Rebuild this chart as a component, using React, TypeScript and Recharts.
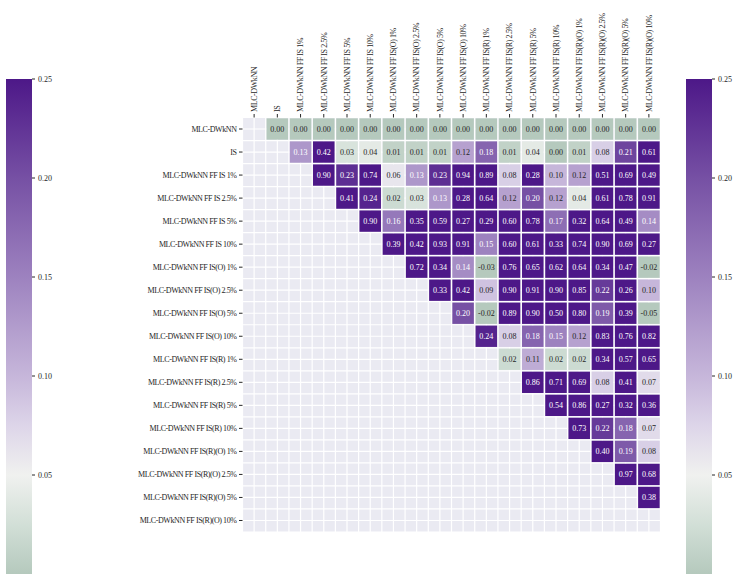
import React from 'react';
import { ScatterChart, Scatter, XAxis, YAxis, CartesianGrid, ComposedChart, ReferenceArea } from 'recharts';

const FONT = '"Liberation Serif", "DejaVu Serif", serif';
const INK = '#262626';
const LABEL_SIZE = 8;
const LABEL_SPACING = -0.42;

const labels = [
  'MLC-DWkNN',
  'IS',
  'MLC-DWkNN FF IS 1%',
  'MLC-DWkNN FF IS 2.5%',
  'MLC-DWkNN FF IS 5%',
  'MLC-DWkNN FF IS 10%',
  'MLC-DWkNN FF IS(O) 1%',
  'MLC-DWkNN FF IS(O) 2.5%',
  'MLC-DWkNN FF IS(O) 5%',
  'MLC-DWkNN FF IS(O) 10%',
  'MLC-DWkNN FF IS(R) 1%',
  'MLC-DWkNN FF IS(R) 2.5%',
  'MLC-DWkNN FF IS(R) 5%',
  'MLC-DWkNN FF IS(R) 10%',
  'MLC-DWkNN FF IS(R)(O) 1%',
  'MLC-DWkNN FF IS(R)(O) 2.5%',
  'MLC-DWkNN FF IS(R)(O) 5%',
  'MLC-DWkNN FF IS(R)(O) 10%',
];

// upper triangle only: row i starts at column i + 1
const rowValues: number[][] = [
  [0, 0, 0, 0, 0, 0, 0, 0, 0, 0, 0, 0, 0, 0, 0, 0, 0],
  [0.13, 0.42, 0.03, 0.04, 0.01, 0.01, 0.01, 0.12, 0.18, 0.01, 0.04, 0.0, 0.01, 0.08, 0.21, 0.61],
  [0.9, 0.23, 0.74, 0.06, 0.13, 0.23, 0.94, 0.89, 0.08, 0.28, 0.1, 0.12, 0.51, 0.69, 0.49],
  [0.41, 0.24, 0.02, 0.03, 0.13, 0.28, 0.64, 0.12, 0.2, 0.12, 0.04, 0.61, 0.78, 0.91],
  [0.9, 0.16, 0.35, 0.59, 0.27, 0.29, 0.6, 0.78, 0.17, 0.32, 0.64, 0.49, 0.14],
  [0.39, 0.42, 0.93, 0.91, 0.15, 0.6, 0.61, 0.33, 0.74, 0.9, 0.69, 0.27],
  [0.72, 0.34, 0.14, -0.03, 0.76, 0.65, 0.62, 0.64, 0.34, 0.47, -0.02],
  [0.33, 0.42, 0.09, 0.9, 0.91, 0.9, 0.85, 0.22, 0.26, 0.1],
  [0.2, -0.02, 0.89, 0.9, 0.5, 0.8, 0.19, 0.39, -0.05],
  [0.24, 0.08, 0.18, 0.15, 0.12, 0.83, 0.76, 0.82],
  [0.02, 0.11, 0.02, 0.02, 0.34, 0.57, 0.65],
  [0.86, 0.71, 0.69, 0.08, 0.41, 0.07],
  [0.54, 0.86, 0.27, 0.32, 0.36],
  [0.73, 0.22, 0.18, 0.07],
  [0.4, 0.19, 0.08],
  [0.97, 0.68],
  [0.38],
  [],
];

const colorbarTicks = [0.05, 0.1, 0.15, 0.2, 0.25];

// colour stops
const cmapStops: [number, string][] = [
  [0.0, '#b5c9bd'],
  [0.025, '#d2dfd7'],
  [0.05, '#f0f1ef'],
  [0.075, '#ddd5e9'],
  [0.1, '#c6b6da'],
  [0.15, '#9d82bf'],
  [0.2, '#7650a4'],
  [0.25, '#4d1888'],
];

const N = labels.length;
const VMIN = 0;
const VMAX = 0.25;

const W = 740;
const H = 574;
const MARGIN = { top: 0, right: 79.5, bottom: 42, left: 0 };
const Y_AXIS_W = 242.5;
const X_AXIS_H = 117.5;
const CELL_W = (W - MARGIN.left - MARGIN.right - Y_AXIS_W) / N;
const CELL_H = (H - MARGIN.top - MARGIN.bottom - X_AXIS_H) / N;

const cells = rowValues.flatMap((vals, i) => vals.map((v, k) => ({ x: i + 1 + k, y: i, v })));
const idx = labels.map((_, i) => i);
const edges = Array.from({ length: 2 * N + 1 }, (_, k) => -0.5 + k * 0.5);

const hex = (c: string) => [1, 3, 5].map((p) => parseInt(c.slice(p, p + 2), 16));

function cmap(v: number) {
  const t = Math.max(VMIN, Math.min(VMAX, v));
  for (let k = 1; k < cmapStops.length; k++) {
    const [v1, c1] = cmapStops[k];
    if (t <= v1) {
      const [v0, c0] = cmapStops[k - 1];
      const f = (t - v0) / (v1 - v0);
      const a = hex(c0);
      const b = hex(c1);
      const m = a.map((q, j) => Math.round(q + (b[j] - q) * f));
      return `rgb(${m[0]},${m[1]},${m[2]})`;
    }
  }
  return cmapStops[cmapStops.length - 1][1];
}

const Cell = (props: any) => {
  const { cx, cy, payload } = props;
  if (cx == null || cy == null) return null;
  const v = payload.v as number;
  return (
    <g>
      <rect
        x={cx - CELL_W / 2 + 0.85}
        y={cy - CELL_H / 2 + 0.85}
        width={CELL_W - 1.7}
        height={CELL_H - 1.7}
        fill={cmap(v)}
      />
      <text
        x={cx}
        y={cy}
        textAnchor="middle"
        dominantBaseline="central"
        fontSize={8}
        fontFamily={FONT}
        fill={v >= 0.125 ? '#ffffff' : INK}
      >
        {v.toFixed(2)}
      </text>
    </g>
  );
};

const TopTick = (props: any) => {
  const { x, y, payload } = props;
  return (
    <g transform={`translate(${x},${y})`}>
      <text
        transform="rotate(-90)"
        textAnchor="start"
        dy="0.35em"
        fontSize={LABEL_SIZE}
        letterSpacing={LABEL_SPACING}
        fontFamily={FONT}
        fill={INK}
      >
        {labels[payload.value]}
      </text>
    </g>
  );
};

const SideTick = (props: any) => {
  const { x, y, payload } = props;
  return (
    <text
      x={x}
      y={y}
      textAnchor="end"
      dy="0.35em"
      fontSize={LABEL_SIZE}
      letterSpacing={LABEL_SPACING}
      fontFamily={FONT}
      fill={INK}
    >
      {labels[payload.value]}
    </text>
  );
};

const scaleOf = (axis: any, fallback: (e: number) => number) => {
  const s = axis?.scale;
  if (typeof s === 'function') return (e: number) => s(e);
  if (s && typeof s.map === 'function') return (e: number) => s.map(e);
  return fallback;
};

const Colorbar = ({ id }: { id: string }) => (
  <ComposedChart width={72} height={H} margin={{ top: 79, right: 0, bottom: 0, left: 6 }}>
    <defs>
      <linearGradient id={id} x1="0" y1="0" x2="0" y2="1">
        {cmapStops
          .slice()
          .reverse()
          .map(([v, c]) => (
            <stop key={v} offset={(VMAX - v) / (VMAX - VMIN)} stopColor={c} />
          ))}
      </linearGradient>
    </defs>
    <XAxis type="number" dataKey="x" domain={[0, 1]} hide />
    <YAxis
      type="number"
      orientation="right"
      domain={[VMIN, VMAX]}
      ticks={colorbarTicks}
      width={40}
      axisLine={false}
      tickSize={3}
      tickMargin={3}
      tickLine={{ stroke: INK }}
      tickFormatter={(v: number) => v.toFixed(2)}
      tick={{ fontSize: 8, fontFamily: FONT, fill: INK }}
    />
    <ReferenceArea x1={0} x2={1} y1={VMIN} y2={VMAX} fill={`url(#${id})`} fillOpacity={1} stroke="none" ifOverflow="extendDomain" />
  </ComposedChart>
);

export default function App() {
  return (
    <div style={{ position: 'absolute', left: 0, top: 0, width: W, height: H, background: '#fff', fontFamily: FONT }}>
      <div style={{ position: 'absolute', left: 0, top: 0 }}>
        <ScatterChart width={W} height={H} margin={MARGIN}>
          <CartesianGrid
            fill="#eaeaf2"
            fillOpacity={1}
            stroke="#ffffff"
            strokeWidth={1.2}
            verticalCoordinatesGenerator={({ xAxis, offset }: any) => {
              const f = scaleOf(xAxis, (e) => offset.left + ((e + 0.5) / N) * offset.width);
              return edges.map(f);
            }}
            horizontalCoordinatesGenerator={({ yAxis, offset }: any) => {
              const f = scaleOf(yAxis, (e) => offset.top + ((e + 0.5) / N) * offset.height);
              return edges.map(f);
            }}
          />
          <XAxis
            type="number"
            dataKey="x"
            orientation="top"
            domain={[-0.5, N - 0.5]}
            ticks={idx}
            interval={0}
            height={X_AXIS_H}
            axisLine={false}
            tickSize={3.5}
            tickMargin={2}
            tickLine={{ stroke: INK }}
            tick={<TopTick />}
            allowDataOverflow
          />
          <YAxis
            type="number"
            dataKey="y"
            domain={[-0.5, N - 0.5]}
            reversed
            ticks={idx}
            interval={0}
            width={Y_AXIS_W}
            axisLine={false}
            tickSize={3.5}
            tickMargin={2.5}
            tickLine={{ stroke: INK }}
            tick={<SideTick />}
            allowDataOverflow
          />
          <Scatter data={cells} shape={<Cell />} isAnimationActive={false} />
        </ScatterChart>
      </div>
      <div style={{ position: 'absolute', left: 0, top: 0 }}>
        <Colorbar id="cbLeft" />
      </div>
      <div style={{ position: 'absolute', left: 680, top: 0 }}>
        <Colorbar id="cbRight" />
      </div>
    </div>
  );
}
